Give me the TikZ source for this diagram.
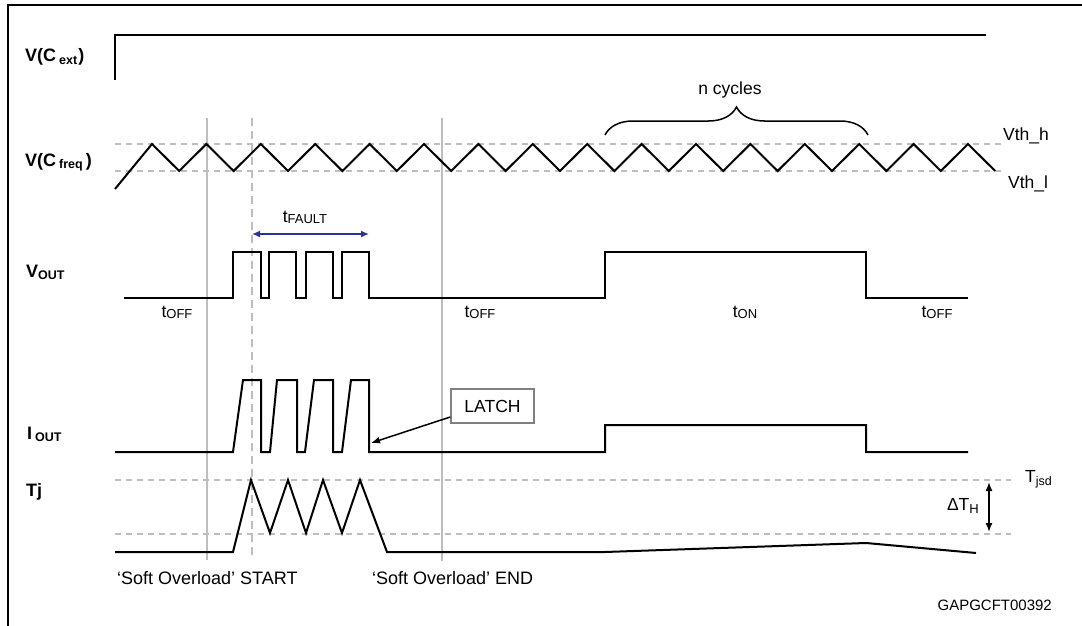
\documentclass[tikz,border=0pt]{standalone}
\usepackage{fontspec}
\setmainfont{Liberation Sans}
\usetikzlibrary{arrows.meta,decorations.pathreplacing}
\definecolor{gridgray}{RGB}{190,190,190}
\definecolor{faultblue}{RGB}{46,49,146}
\definecolor{boxgray}{RGB}{128,128,128}
\newcommand{\tlab}[1]{t\raisebox{-1.5pt}{\fontsize{13}{13}\selectfont #1}}
\newcommand{\bsub}[1]{\raisebox{-2.5pt}{\fontsize{12.5}{13}\selectfont #1}}
\begin{document}
\begin{tikzpicture}[x=1pt,y=-1pt,
  trace/.style={line width=2pt, line join=miter},
  guide/.style={line width=1.5pt, draw=gridgray},
  thresh/.style={line width=1.3pt, draw=gridgray, dash pattern=on 6pt off 5pt},
  lbl/.style={font=\fontsize{17.5}{20}\selectfont, inner sep=0pt},
  blbl/.style={font=\fontsize{18}{20}\selectfont\bfseries, inner sep=0pt, anchor=base west},
]
\useasboundingbox (0,0) rectangle (1082,626);
% frame
\draw[line width=2.5pt] (8,627) -- (8,5) -- (1083,5);
% V(Cext)
\draw[trace] (115,80) -- (115,35) -- (986,35);
\node[blbl] (lcext) at (25,62) {V(C\hspace{3pt}\bsub{ext}\hspace{1pt})};
% V(Cfreq)
\draw[thresh] (115,144) -- (1005,144);
\draw[thresh] (115,171) -- (1005,171);
\node[blbl] (lcfreq) at (25,166) {V(C\hspace{3pt}\bsub{freq}\hspace{3pt})};
\node[lbl, anchor=base west] (vthh) at (1003,140) {Vth\_h};
\node[lbl, anchor=base west] (vthl) at (1008,188) {Vth\_l};
% guides
\draw[guide] (207,118) -- (207,560);
\draw[guide, dash pattern=on 8pt off 5pt] (252,118) -- (252,558);
\draw[guide] (442,118) -- (442,561);
% wave
\draw[trace] (115,189) foreach \k in {0,...,15} { -- ({152+54.4*\k},144) -- ({179.2+54.4*\k},171) };
% n cycles brace
\draw[line width=1.5pt, decorate, decoration={brace, amplitude=28pt}] (605,135) -- (868,135);
\node[lbl, anchor=base] (ncyc) at (730,95) {n cycles};
% tFAULT
\coordinate (fa) at (252,234);
\coordinate (fb) at (369,234);
\draw[faultblue, line width=1.5pt, {Latex[length=8pt,width=7pt]}-{Latex[length=8pt,width=7pt]}] (fa) -- (fb);
\node[lbl, anchor=base] (tfault) at (305,222) {\tlab{FAULT}};
% VOUT
\node[blbl] (lvout) at (26,277) {V\bsub{OUT}};
\draw[trace] (124,298) -- (233,298) -- (233,252) -- (261,252) -- (261,298) -- (269,298) -- (269,252) -- (296,252) -- (296,298) -- (306,298) -- (306,252) -- (333,252) -- (333,298) -- (342,298) -- (342,252) -- (369,252) -- (369,298) -- (605,298) -- (605,252) -- (866,252) -- (866,298) -- (968,298);
\node[lbl, anchor=base] (toff1) at (177,317) {\tlab{OFF}};
\node[lbl, anchor=base] (toff2) at (480,317) {\tlab{OFF}};
\node[lbl, anchor=base] (ton) at (745,317) {\tlab{ON}};
\node[lbl, anchor=base] (toff3) at (937,317) {\tlab{OFF}};
% IOUT
\node[blbl] (liout) at (27,439) {I\hspace{3pt}\bsub{OUT}};
\draw[trace] (115,452) -- (233,452) -- (243,380) -- (261,380) -- (261,452) -- (270,452) -- (277,380) -- (297,380) -- (297,452) -- (305,452) -- (314,380) -- (333,380) -- (333,452) -- (342,452) -- (351,380) -- (369,380) -- (369,452) -- (605,452) -- (605,425) -- (866,425) -- (866,452) -- (968,452);
\node[draw=boxgray, line width=1.5pt, minimum width=83pt, minimum height=34pt, font=\fontsize{17.5}{20}\selectfont, inner sep=0pt] (latch) at (492.5,406) {LATCH};
\coordinate (latchtip) at (371,443);
\draw[line width=1.5pt, -{Latex[length=9pt,width=7pt]}] ([yshift=-11pt]latch.west) -- (latchtip);
% Tj
\node[blbl] (ltj) at (26,496) {Tj};
\draw[thresh] (115,480) -- (1011,480);
\draw[thresh] (115,534) -- (1011,534);
\draw[trace] (115,552) -- (233,552) -- (251,480) -- (270,533) -- (288,480) -- (306,533) -- (323,480) -- (342,533) -- (360,480) -- (387,552) -- (605,552) -- (866,543) -- (976,553);
\node[lbl, anchor=base west] (tjsd) at (1025,482) {T\raisebox{-3pt}{\fontsize{12.5}{13}\selectfont jsd}};
\coordinate (dta) at (989,482);
\coordinate (dtb) at (989,532);
\draw[line width=1.5pt, {Latex[length=9pt,width=7pt]}-{Latex[length=9pt,width=7pt]}] (dta) -- (dtb);
\node[lbl, anchor=base east] (dth) at (979,510) {ΔT\raisebox{-3pt}{\fontsize{13}{13}\selectfont H}};
% bottom labels
\node[lbl, anchor=base west, font=\fontsize{18}{20}\selectfont] (sostart) at (117,584) {‘Soft Overload’ START};
\node[lbl, anchor=base west, font=\fontsize{18}{20}\selectfont] (soend) at (372,584) {‘Soft Overload’ END};
\node[lbl, anchor=base east, font=\fontsize{15}{18}\selectfont] (code) at (1052,610) {GAPGCFT00392};
\end{tikzpicture}
\end{document}
